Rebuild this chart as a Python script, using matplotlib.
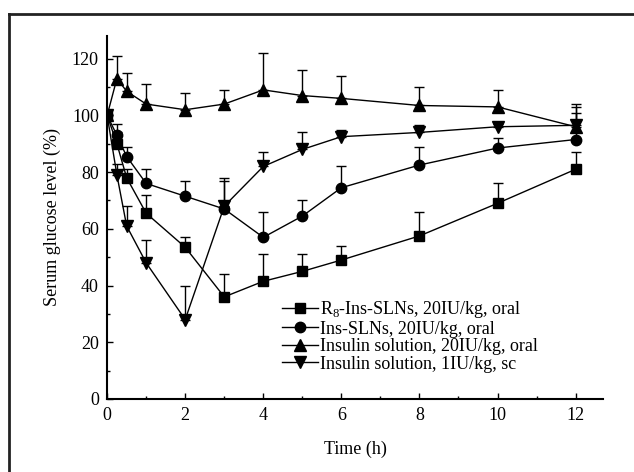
import matplotlib
matplotlib.use("Agg")
import matplotlib.pyplot as plt
from matplotlib.lines import Line2D
from matplotlib.ticker import MultipleLocator

plt.rcParams["font.family"] = ["Liberation Serif", "DejaVu Serif"]
plt.rcParams["mathtext.fontset"] = "custom"
plt.rcParams["mathtext.rm"] = "Liberation Serif"

# Time points (h)
time_h = [0, 0.25, 0.5, 1, 2, 3, 4, 5, 6, 8, 10, 12]

# Serum glucose (%) means and upper error-bar tops
rs_sln = [100, 90, 78, 65.5, 53.5, 36, 41.5, 45, 49, 57.5, 69, 81]
rs_sln_top = [100, 94, 81, 72, 57, 44, 51, 51, 54, 66, 76, 87]

ins_sln = [100, 93, 85.5, 76, 71.5, 67, 57, 64.5, 74.5, 82.5, 88.5, 91.5]
ins_sln_top = [100, 97, 89, 81, 77, 78, 66, 70, 82, 89, 92, 101]

sol_oral = [100, 113, 108.5, 104, 102, 104, 109, 107, 106, 103.5, 103, 96]
sol_oral_top = [100, 121, 115, 111, 108, 109, 122, 116, 114, 110, 109, 104]

sol_sc = [100, 79, 61, 48, 28, 68, 82, 88, 92.5, 94, 96, 96.5]
sol_sc_top = [100, 83, 68, 56, 40, 77, 87, 94, 95, 96.5, 97, 103]

labels = [
    r"R$_8$-Ins-SLNs, 20IU/kg, oral",
    "Ins-SLNs, 20IU/kg, oral",
    "Insulin solution, 20IU/kg, oral",
    "Insulin solution, 1IU/kg, sc",
]
markers = ["s", "o", "^", "v"]
series = [rs_sln, ins_sln, sol_oral, sol_sc]
tops = [rs_sln_top, ins_sln_top, sol_oral_top, sol_sc_top]
sizes = [6.5, 7.5, 8, 8]

fig = plt.figure(figsize=(6.34, 4.72), dpi=100)
ax = fig.add_axes([0.169, 0.1547, 0.782, 0.769])

for vals, top, mk, lab, ms in zip(series, tops, markers, labels, sizes):
    err_up = [t - v for t, v in zip(top, vals)]
    err_lo = [0] * len(vals)
    ax.errorbar(time_h, vals, yerr=[err_lo, err_up], fmt="none",
                ecolor="black", elinewidth=1.0, capsize=3.5, capthick=1.0)
    ax.plot(time_h, vals, color="black", lw=1.0, marker=mk, ms=ms,
            mfc="black", mec="black", label=lab)

ax.set_xlim(0, 12.7)
ax.set_ylim(0, 128)
ax.xaxis.set_major_locator(MultipleLocator(2))
ax.xaxis.set_minor_locator(MultipleLocator(1))
ax.yaxis.set_major_locator(MultipleLocator(20))
ax.yaxis.set_minor_locator(MultipleLocator(10))
ax.tick_params(which="both", direction="in", width=1.0, labelsize=13)
ax.tick_params(which="major", length=4)
ax.tick_params(which="minor", length=2)
ax.tick_params(axis="x", pad=6)
ax.tick_params(axis="y", pad=6)
ax.spines["top"].set_visible(False)
ax.spines["right"].set_visible(False)
ax.spines["left"].set_linewidth(1.5)
ax.spines["bottom"].set_linewidth(1.5)

ax.set_xlabel("Time (h)", fontsize=13, labelpad=12)
ax.set_ylabel("Serum glucose level (%)", fontsize=13, labelpad=8)

ax.legend(loc="upper left", bbox_to_anchor=(0.353, 0.275), frameon=False,
          fontsize=13, handlelength=2.0, handletextpad=0.1,
          labelspacing=0.03, borderaxespad=0, borderpad=0)

# outer frame (left and top edges)
fig.add_artist(Line2D([9 / 634, 9 / 634], [0, 1 - 14 / 472],
                      transform=fig.transFigure, color="#222222", lw=2))
fig.add_artist(Line2D([9 / 634, 1], [1 - 14 / 472, 1 - 14 / 472],
                      transform=fig.transFigure, color="#222222", lw=2))

fig.savefig("out.png", dpi=100)
